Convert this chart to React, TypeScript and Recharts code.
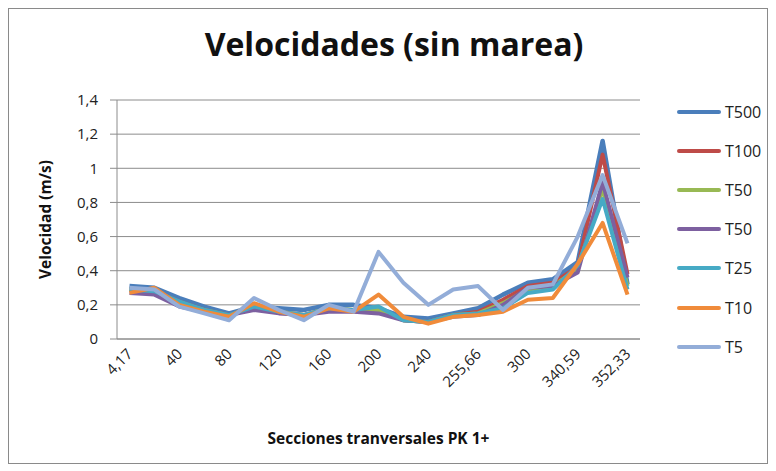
import React from "react";
import { LineChart, Line, XAxis, YAxis, CartesianGrid, Legend } from "recharts";

// Secciones (PK 1+); only every other one gets a label in the original
const sections = [
  "4,17", "20", "40", "60", "80", "100", "120", "140", "160", "180", "200",
  "220", "240", "250", "255,66", "280", "300", "320", "340,59", "350", "352,33",
];

const t500 = [0.31, 0.30, 0.24, 0.19, 0.15, 0.19, 0.18, 0.17, 0.20, 0.20, 0.18, 0.13, 0.12, 0.15, 0.18, 0.26, 0.33, 0.35, 0.45, 1.16, 0.32];
const t100 = [0.29, 0.28, 0.22, 0.17, 0.14, 0.18, 0.16, 0.14, 0.18, 0.17, 0.17, 0.11, 0.10, 0.14, 0.16, 0.23, 0.31, 0.33, 0.42, 1.08, 0.38];
const t50a = [0.29, 0.28, 0.21, 0.17, 0.14, 0.18, 0.16, 0.14, 0.18, 0.17, 0.17, 0.11, 0.10, 0.14, 0.15, 0.21, 0.29, 0.31, 0.41, 0.88, 0.31];
const t50b = [0.27, 0.26, 0.19, 0.16, 0.14, 0.17, 0.15, 0.14, 0.16, 0.16, 0.15, 0.11, 0.10, 0.13, 0.14, 0.20, 0.30, 0.31, 0.39, 0.92, 0.36];
const t25 = [0.29, 0.28, 0.22, 0.17, 0.14, 0.19, 0.16, 0.14, 0.18, 0.17, 0.19, 0.11, 0.10, 0.14, 0.15, 0.18, 0.27, 0.29, 0.43, 0.82, 0.29];
const t10 = [0.27, 0.30, 0.20, 0.16, 0.13, 0.21, 0.16, 0.13, 0.18, 0.16, 0.26, 0.13, 0.09, 0.13, 0.14, 0.16, 0.23, 0.24, 0.44, 0.68, 0.26];
const t5 = [0.30, 0.29, 0.19, 0.15, 0.11, 0.24, 0.17, 0.11, 0.20, 0.16, 0.51, 0.33, 0.20, 0.29, 0.31, 0.17, 0.30, 0.32, 0.60, 0.96, 0.56];

const yTicks = [0, 0.2, 0.4, 0.6, 0.8, 1, 1.2, 1.4];

const seriesList = [
  { key: "t500", name: "T500", values: t500, color: "#4A7EBB", width: 4.5 },
  { key: "t100", name: "T100", values: t100, color: "#BE4B48", width: 4 },
  { key: "t50a", name: "T50", values: t50a, color: "#98B954", width: 4 },
  { key: "t50b", name: "T50", values: t50b, color: "#7D60A0", width: 4 },
  { key: "t25", name: "T25", values: t25, color: "#46AAC5", width: 4 },
  { key: "t10", name: "T10", values: t10, color: "#F08B3A", width: 4 },
  { key: "t5", name: "T5", values: t5, color: "#93ADD8", width: 4 },
];

const data = sections.map((s, i) => {
  const row: any = { seccion: s };
  seriesList.forEach((sr) => (row[sr.key] = sr.values[i]));
  return row;
});

const FONT = "'Open Sans', sans-serif";
const GRID = "#8c8c8c";
const LEGEND_W = 90;

const fmt = (v: number) => String(v).replace(".", ",");

const XTick = (props: any) => {
  const { x, y, payload } = props;
  return (
    <text
      x={x + 4}
      y={y + 8}
      textAnchor="end"
      fontSize={15}
      fontFamily={FONT}
      fill="#222"
      transform={`rotate(-45, ${x + 4}, ${y + 8})`}
    >
      {payload.value}
    </text>
  );
};

const LegendList = () => (
  <div style={{ fontFamily: FONT, fontSize: 16, color: "#222" }}>
    {seriesList.map((sr) => (
      <div key={sr.key} style={{ height: 39.2, display: "flex", alignItems: "center" }}>
        <span style={{ display: "inline-block", width: 44, height: 4, background: sr.color, borderRadius: 2, marginRight: 4 }} />
        <span>{sr.name}</span>
      </div>
    ))}
  </div>
);

export default function App() {
  return (
    <div style={{ position: "absolute", left: 0, top: 0, width: 776, height: 471, background: "#fff" }}>
      <div
        style={{
          position: "absolute",
          left: 8,
          top: 8,
          width: 760,
          height: 456,
          border: "1.5px solid #8a8a8a",
          boxSizing: "border-box",
        }}
      />
      <div
        style={{
          position: "absolute",
          left: 0,
          width: 776,
          top: 22,
          textAlign: "center",
          fontFamily: FONT,
          fontWeight: 700,
          fontSize: 32,
          paddingLeft: 6,
          color: "#111",
        }}
      >
        Velocidades (sin marea)
      </div>
      <LineChart
        width={776}
        height={471}
        data={data}
        margin={{ top: 100, right: 136 - LEGEND_W, left: 27, bottom: 27 }}
      >
        <CartesianGrid vertical={false} stroke={GRID} strokeWidth={1} />
        <XAxis
          dataKey="seccion"
          interval={1}
          padding={{ left: 12.5, right: 12.5 }}
          height={105}
          axisLine={{ stroke: GRID }}
          tickLine={false}
          tick={<XTick />}
          label={{
            value: "Secciones tranversales PK 1+",
            position: "insideBottom",
            offset: 0,
            style: { fontFamily: FONT, fontWeight: 700, fontSize: 15.5, fill: "#111" },
          }}
        />
        <YAxis
          width={90}
          domain={[0, 1.4]}
          ticks={yTicks}
          tickFormatter={fmt}
          tickSize={7}
          tickMargin={12}
          axisLine={{ stroke: GRID }}
          tickLine={{ stroke: GRID }}
          tick={{ fontFamily: FONT, fontSize: 15, fill: "#222" }}
          label={{
            content: ({ viewBox }: any) => {
              const cx = viewBox.x + 18;
              const cy = viewBox.y + viewBox.height / 2;
              return (
                <text
                  x={cx}
                  y={cy}
                  textAnchor="middle"
                  dominantBaseline="central"
                  fontFamily={FONT}
                  fontWeight={700}
                  fontSize={15.5}
                  fill="#111"
                  transform={`rotate(-90, ${cx}, ${cy})`}
                >
                  Velocidad (m/s)
                </text>
              );
            },
          }}
        />
        <Legend
          layout="vertical"
          verticalAlign="top"
          align="right"
          content={<LegendList />}
          wrapperStyle={{ left: 677, top: 92, width: LEGEND_W }}
        />
        {seriesList.map((sr) => (
          <Line
            key={sr.key}
            type="linear"
            dataKey={sr.key}
            name={sr.name}
            stroke={sr.color}
            strokeWidth={sr.width}
            strokeLinejoin="round"
            dot={false}
            activeDot={false}
            isAnimationActive={false}
          />
        ))}
      </LineChart>
    </div>
  );
}
